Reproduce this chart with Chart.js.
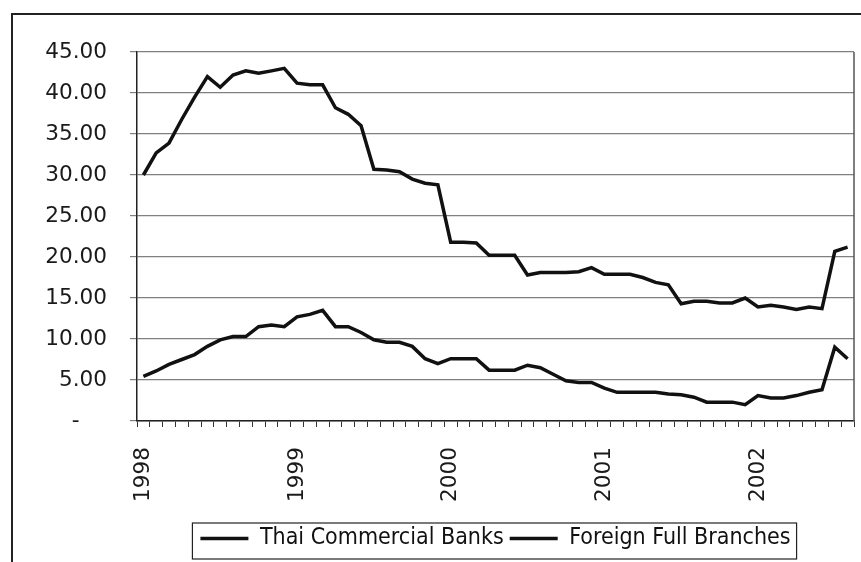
<!DOCTYPE html>
<html>
<head>
<meta charset="utf-8">
<script src="https://cdn.jsdelivr.net/npm/chart.js@4.4.1/dist/chart.umd.min.js"></script>
<style>
  body { margin: 0; background: #fff; }
  #wrap { width: 861px; height: 562px; }
</style>
</head>
<body>
<div id="wrap"><canvas id="chart" width="861" height="562"></canvas></div>
<script>
// Monthly series, Jan 1998 - Aug 2002
const years = ['1998', '1999', '2000', '2001', '2002'];
const months = ['Jan', 'Feb', 'Mar', 'Apr', 'May', 'Jun', 'Jul', 'Aug', 'Sep', 'Oct', 'Nov', 'Dec'];

const thaiBanks = [
    30.0, 32.7, 33.9, 36.8, 39.5, 42.0, 40.7, 42.2, 42.7, 42.4, 42.7, 43.0,
    41.2, 41.0, 41.0, 38.2, 37.4, 36.0, 30.7, 30.6, 30.4, 29.5, 29.0, 28.8,
    21.8, 21.8, 21.7, 20.2, 20.2, 20.2, 17.8, 18.1, 18.1, 18.1, 18.2, 18.7,
    17.9, 17.9, 17.9, 17.5, 16.9, 16.6, 14.3, 14.6, 14.6, 14.4, 14.4, 15.0,
    13.9, 14.1, 13.9, 13.6, 13.9, 13.7, 20.7, 21.2
];

const foreignBranches = [
    5.45, 6.1, 6.9, 7.5, 8.1, 9.1, 9.9, 10.3, 10.3, 11.5, 11.7, 11.5,
    12.7, 13.0, 13.5, 11.5, 11.5, 10.8, 9.9, 9.6, 9.6, 9.1, 7.6, 7.0,
    7.6, 7.6, 7.6, 6.2, 6.2, 6.2, 6.8, 6.5, 5.7, 4.9, 4.7, 4.7,
    4.0, 3.5, 3.5, 3.5, 3.5, 3.3, 3.2, 2.9, 2.3, 2.3, 2.3, 2.0,
    3.1, 2.8, 2.8, 3.1, 3.5, 3.8, 9.0, 7.6
];

const labels = [];
years.forEach(y => months.forEach(m => labels.push(m + ' ' + y)));
labels.length = thaiBanks.length;

const tickFont = { family: "'DejaVu Sans', Verdana, sans-serif", size: 21.6 };

// outer frame, right edge of the plot and the box round the legend
const framePlugin = {
    id: 'frame',
    beforeDraw(chart) {
        const ctx = chart.ctx;
        ctx.save();
        ctx.fillStyle = '#fff';
        ctx.fillRect(0, 0, chart.width, chart.height);
        ctx.strokeStyle = '#222';
        ctx.lineWidth = 2;
        ctx.beginPath();
        ctx.moveTo(12, chart.height);
        ctx.lineTo(12, 14);
        ctx.lineTo(chart.width, 14);
        ctx.stroke();
        ctx.restore();
    },
    afterDraw(chart) {
        const { ctx, chartArea, legend } = chart;
        ctx.save();
        ctx.strokeStyle = '#555';
        ctx.lineWidth = 1.5;
        ctx.beginPath();
        ctx.moveTo(chartArea.right, chartArea.top);
        ctx.lineTo(chartArea.right, chartArea.bottom);
        ctx.stroke();

        const boxes = legend.legendHitBoxes;
        if (boxes && boxes.length) {
            const last = boxes[boxes.length - 1];
            const left = boxes[0].left - 8;
            const right = last.left + last.width + 6;
            const top = legend.top + 2;
            const bottom = legend.bottom - 1;
            ctx.strokeStyle = '#222';
            ctx.lineWidth = 1.2;
            ctx.strokeRect(left, top, right - left, bottom - top);
        }
        ctx.restore();
    }
};

new Chart(document.getElementById('chart'), {
    type: 'line',
    data: {
        labels: labels,
        datasets: [{
            label: 'Thai Commercial Banks',
            data: thaiBanks,
            borderColor: '#111',
            backgroundColor: '#111',
            borderWidth: 3.5,
            pointRadius: 0,
            pointStyle: 'line',
            tension: 0
        }, {
            label: 'Foreign Full Branches',
            data: foreignBranches,
            borderColor: '#111',
            backgroundColor: '#111',
            borderWidth: 3.5,
            pointRadius: 0,
            pointStyle: 'line',
            tension: 0
        }]
    },
    options: {
        responsive: false,
        animation: false,
        devicePixelRatio: 1,
        layout: {
            padding: { top: 52, left: 44, right: 7, bottom: 2 }
        },
        plugins: {
            tooltip: { enabled: false },
            legend: {
                position: 'bottom',
                fullSize: false,
                labels: {
                    color: '#111',
                    font: { family: "'DejaVu Sans Condensed', 'DejaVu Sans', sans-serif", size: 23 },
                    usePointStyle: true,
                    pointStyleWidth: 48,
                    padding: 6
                }
            }
        },
        scales: {
            x: {
                offset: true,
                afterFit: (scale) => {
                    scale.height = 100;
                    scale.paddingLeft = 0;
                    scale.paddingRight = 0;
                },
                grid: {
                    offset: true,
                    drawOnChartArea: false,
                    drawTicks: true,
                    tickLength: 6,
                    color: '#333'
                },
                border: { color: '#222', width: 1.5 },
                ticks: {
                    autoSkip: false,
                    maxRotation: 90,
                    minRotation: 90,
                    padding: 20,
                    color: '#1a1a1a',
                    font: tickFont,
                    callback: (value, index) => index % 12 === 0 ? years[index / 12] : ''
                }
            },
            y: {
                min: 0,
                max: 45,
                afterFit: (scale) => { scale.width = 93; },
                grid: {
                    color: '#808080',
                    lineWidth: 1.2,
                    tickLength: 7
                },
                border: { color: '#222', width: 1.5 },
                ticks: {
                    stepSize: 5,
                    padding: 23,
                    color: '#1a1a1a',
                    font: tickFont,
                    callback: (value) => value === 0 ? '-    ' : value.toFixed(2)
                }
            }
        }
    },
    plugins: [framePlugin]
});
</script>
</body>
</html>
